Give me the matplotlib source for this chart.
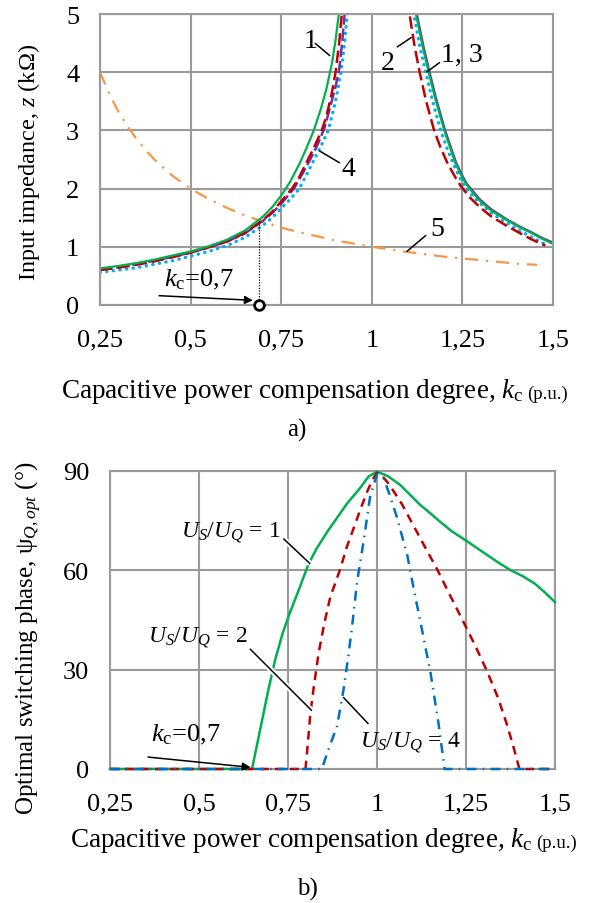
import numpy as np
import matplotlib
matplotlib.use("Agg")
import matplotlib.pyplot as plt
import matplotlib.patheffects as pe

plt.rcParams['font.family'] = ['Liberation Serif', 'DejaVu Serif']
plt.rcParams['mathtext.fontset'] = 'custom'
plt.rcParams['mathtext.rm'] = 'Liberation Serif'
plt.rcParams['mathtext.it'] = 'Liberation Serif:italic'

# --- a) input impedance z (kOhm) vs kc ---
# curve 1 (green)
kc1_l = [0.25, 0.3, 0.35, 0.4, 0.45, 0.5, 0.55, 0.6, 0.65, 0.7, 0.725, 0.75, 0.775, 0.8,
         0.82, 0.84, 0.86, 0.875, 0.89, 0.9, 0.91, 0.92]
z1_l = [0.63, 0.67, 0.72, 0.78, 0.85, 0.92, 1.01, 1.12, 1.28, 1.52, 1.68, 1.88, 2.12, 2.42,
        2.7, 3.0, 3.38, 3.72, 4.15, 4.55, 5.05, 5.6]
kc1_r = [1.11, 1.122, 1.14, 1.157, 1.175, 1.2, 1.23, 1.245, 1.26, 1.28, 1.3, 1.33, 1.375,
         1.41, 1.44, 1.47, 1.5]
z1_r = [5.6, 5.0, 4.45, 4.0, 3.55, 3.0, 2.45, 2.25, 2.08, 1.92, 1.78, 1.62, 1.45,
        1.33, 1.24, 1.14, 1.05]
# curve 2 (red)
kc2_l = [0.25, 0.3, 0.35, 0.4, 0.45, 0.5, 0.55, 0.6, 0.65, 0.7, 0.725, 0.75, 0.78, 0.8,
         0.82, 0.84, 0.862, 0.875, 0.89, 0.9, 0.91, 0.917, 0.925]
z2_l = [0.6, 0.64, 0.69, 0.75, 0.82, 0.9, 0.99, 1.09, 1.24, 1.46, 1.6, 1.78, 2.0, 2.2,
        2.45, 2.7, 3.0, 3.25, 3.65, 4.0, 4.5, 5.0, 5.6]
kc2_r = [1.095, 1.104, 1.118, 1.132, 1.15, 1.172, 1.19, 1.21, 1.23, 1.245, 1.27, 1.3, 1.33,
         1.375, 1.41, 1.44, 1.479]
z2_r = [5.6, 5.0, 4.45, 4.0, 3.5, 3.0, 2.7, 2.42, 2.2, 2.05, 1.85, 1.67, 1.52,
        1.35, 1.23, 1.13, 1.02]
# curve 3 (purple), right branch coincides with curve 1
kc3_l = [0.25, 0.3, 0.35, 0.4, 0.45, 0.5, 0.55, 0.6, 0.65, 0.7, 0.725, 0.75, 0.785, 0.81,
         0.83, 0.85, 0.87, 0.885, 0.9, 0.91, 0.918, 0.925, 0.932]
z3_l = [0.61, 0.65, 0.7, 0.76, 0.83, 0.9, 0.99, 1.09, 1.23, 1.45, 1.58, 1.74, 2.0, 2.27,
        2.5, 2.75, 3.05, 3.4, 3.75, 4.05, 4.5, 5.0, 5.6]
kc3_r = [1.112, 1.124, 1.142, 1.159, 1.177, 1.202, 1.232, 1.247, 1.262, 1.282, 1.3, 1.33,
         1.375, 1.41, 1.44, 1.47, 1.5]
z3_r = [5.6, 5.0, 4.45, 4.0, 3.55, 3.0, 2.45, 2.25, 2.08, 1.93, 1.8, 1.64, 1.46,
        1.34, 1.25, 1.15, 1.07]
# curve 4 (light blue, dotted)
kc4_l = [0.25, 0.3, 0.35, 0.4, 0.45, 0.5, 0.55, 0.6, 0.65, 0.7, 0.725, 0.75, 0.775, 0.8,
         0.825, 0.845, 0.865, 0.88, 0.9, 0.915, 0.925, 0.932, 0.94]
z4_l = [0.56, 0.6, 0.64, 0.7, 0.76, 0.84, 0.92, 1.02, 1.16, 1.37, 1.5, 1.66, 1.82, 2.0,
        2.3, 2.55, 2.8, 3.0, 3.5, 4.0, 4.5, 5.0, 5.6]
kc4_r = [1.105, 1.116, 1.132, 1.149, 1.168, 1.19, 1.21, 1.23, 1.254, 1.28, 1.3, 1.33,
         1.375, 1.41, 1.44, 1.479]
z4_r = [5.6, 5.0, 4.45, 4.0, 3.5, 3.0, 2.65, 2.35, 2.05, 1.86, 1.74, 1.58,
        1.4, 1.27, 1.17, 1.04]
# curve 5 (orange, dash-dot)
kc5 = [0.25, 0.275, 0.3, 0.325, 0.35, 0.375, 0.4, 0.45, 0.5, 0.55, 0.6, 0.65, 0.7, 0.75,
       0.8, 0.9, 1.0, 1.1, 1.2, 1.3, 1.4, 1.456]
z5 = [4.0, 3.64, 3.33, 3.08, 2.86, 2.67, 2.5, 2.22, 2.0, 1.82, 1.67, 1.54, 1.43, 1.33,
      1.25, 1.11, 1.0, 0.91, 0.83, 0.77, 0.71, 0.69]

kc_mark = 0.69
z_mark = 1.45

# --- b) optimal switching phase (deg) vs kc ---
kc_u1 = [0.25, 0.649, 0.672, 0.695, 0.714, 0.735, 0.756, 0.78, 0.808, 0.83, 0.86, 0.89,
         0.916, 0.95, 0.976, 1.0, 1.03, 1.066, 1.095, 1.122, 1.15, 1.177, 1.21, 1.25,
         1.28, 1.31, 1.34, 1.376, 1.41, 1.443, 1.47, 1.5]
psi_u1 = [0, 0, 12, 24, 33, 41, 47.4, 54, 62, 66.5, 71.6, 76.2,
          80.2, 84.5, 88.3, 89.8, 88.5, 85.7, 82.6, 79.7, 77.2, 74.7, 71.8, 69,
          66.8, 64.6, 62.4, 60, 58.2, 56, 53.5, 50.4]
kc_u2 = [0.25, 0.799, 0.806, 0.813, 0.824, 0.836, 0.852, 0.869, 0.897, 0.915, 0.934,
         0.952, 0.972, 0.988, 1.0, 1.015, 1.036, 1.07, 1.102, 1.135, 1.168, 1.205, 1.243,
         1.277, 1.31, 1.34, 1.366, 1.385, 1.4, 1.5]
psi_u2 = [0, 0, 8, 17, 26, 35, 44, 52, 60.5, 67, 72.6,
          78, 83.7, 87.5, 89.5, 88.5, 85.7, 80, 73.6, 67, 60.5, 52.5, 44.4,
          37, 29.3, 21.5, 13.1, 6, 0, 0]
kc_u4 = [0.25, 0.845, 0.864, 0.888, 0.906, 0.918, 0.93, 0.944, 0.962, 0.981, 1.0,
         1.018, 1.035, 1.056, 1.085, 1.103, 1.122, 1.15, 1.173, 1.19, 1.5]
psi_u4 = [0, 0, 6, 13, 24, 33, 43, 56.5, 68.5, 82.5, 89,
          88, 83, 76, 64.6, 54.5, 44.4, 29.3, 13.6, 0, 0]

xticks = [0.25, 0.5, 0.75, 1.0, 1.25, 1.5]
xticklabels = ['0,25', '0,5', '0,75', '1', '1,25', '1,5']

GRID = '#9a9a9a'
FS = 19

fig = plt.figure(figsize=(5.91, 9.04), dpi=100)
W, H = 591, 904


def prep(ax, ylim, yticks):
    ax.set_xlim(0.25, 1.5)
    ax.set_ylim(*ylim)
    ax.set_xticks(xticks)
    ax.set_xticklabels(xticklabels)
    ax.set_yticks(yticks)
    ax.grid(True, color=GRID, lw=1.5)
    ax.set_axisbelow(True)
    for s in ax.spines.values():
        s.set_color(GRID)
        s.set_linewidth(1.5)
    ax.tick_params(length=0, labelsize=FS)
    ax.tick_params(axis='x', pad=17)
    ax.tick_params(axis='y', pad=15)


def xlabel(x, y):
    t = fig.text(x / W, 1 - y / H, r'Capacitive power compensation degree, $k_\mathrm{c}$',
                 fontsize=19.5, ha='center', va='center')
    ann = plt.annotate('(p.u.)', xy=(1, 0.5), xycoords=t, xytext=(3, -2),
                       textcoords='offset points', fontsize=13.5, ha='left', va='center',
                       annotation_clip=False)
    return ann


# ---------------- a) ----------------
ax1 = fig.add_axes([100 / W, 1 - 306 / H, 453 / W, 291 / H])
prep(ax1, (0, 5), [0, 1, 2, 3, 4, 5])

ax1.plot(kc5, z5, color='#f79646', lw=1.6, dashes=(6, 3.5, 1, 3.5))
ax1.plot(kc4_l, z4_l, color='#00b0f0', lw=2.4, dashes=(0.1, 1.9), dash_capstyle='round')
ax1.plot(kc4_r, z4_r, color='#00b0f0', lw=2.4, dashes=(0.1, 1.9), dash_capstyle='round')
ax1.plot(kc3_l, z3_l, color='#7030a0', lw=1.8, dashes=(5, 1.5))
ax1.plot(kc3_r, z3_r, color='#7030a0', lw=1.8)
ax1.plot(kc2_l, z2_l, color='#c00000', lw=1.8, dashes=(5, 2))
ax1.plot(kc2_r, z2_r, color='#c00000', lw=1.8, dashes=(5, 2))
ax1.plot(kc1_l, z1_l, color='#00b050', lw=1.6)
ax1.plot(kc1_r, z1_r, color='#00b050', lw=1.6)

ax1.plot([kc_mark, kc_mark], [0, z_mark], color='black', lw=0.9, ls=(0, (1, 1.2)))
ax1.plot([kc_mark], [0], 'o', ms=7, mfc='white', mec='black', mew=2, clip_on=False, zorder=10)

lead = dict(color='black', lw=1.1, solid_capstyle='butt')
ax1.text(0.83, 4.54, '1', fontsize=20, ha='center', va='center')
ax1.plot([0.843, 0.885], [4.5, 4.28], **lead)
ax1.text(0.934, 2.35, '4', fontsize=20, ha='center', va='center')
ax1.plot([0.912, 0.855], [2.44, 2.65], **lead)
ax1.text(1.045, 4.175, '2', fontsize=20, ha='center', va='center')
ax1.plot([1.069, 1.11], [4.43, 4.6], **lead)
ax1.text(1.249, 4.31, '1, 3', fontsize=20, ha='center', va='center')
ax1.plot([1.188, 1.151], [4.17, 4.0], **lead)
ax1.text(1.18, 1.31, '5', fontsize=20, ha='center', va='center')
ax1.plot([1.15, 1.096], [1.2, 0.916], **lead)

ax1.text(0.523, 0.44, r'$k_\mathrm{c}$=0,7', fontsize=19, ha='center', va='center')
ax1.annotate('', xy=(0.672, 0.08), xytext=(0.413, 0.16),
             arrowprops=dict(arrowstyle='-|>', color='black', lw=1.1,
                             mutation_scale=12, shrinkA=0, shrinkB=0))

fig.text(29 / W, 1 - 162 / H, r'Input impedance, $z$ (k$\Omega$)', rotation=90,
         fontsize=17.5, ha='center', va='center')
xlabel(292, 392)
fig.text(297 / W, 1 - 430 / H, 'a)', fontsize=18, ha='center', va='center')

# ---------------- b) ----------------
ax2 = fig.add_axes([110 / W, 1 - 770 / H, 445 / W, 298 / H])
prep(ax2, (0, 90), [0, 30, 60, 90])

ax2.plot(kc_u1, psi_u1, color='#00b050', lw=1.8, clip_on=False, zorder=3)
ax2.plot(kc_u2, psi_u2, color='#c00000', lw=1.8, dashes=(3.5, 2.5), clip_on=False, zorder=3)
ax2.plot(kc_u4, psi_u4, color='#0070c0', lw=1.8, dashes=(4, 2.5, 0.6, 2.5), clip_on=False, zorder=3)

halo = [pe.withStroke(linewidth=4, foreground='white')]
ax2.text(0.59, 71.7, r'$U_S/U_Q$ = 1', fontsize=17, ha='center', va='center')
ax2.plot([0.737, 0.812], [69.6, 62], path_effects=halo, zorder=4, **lead)
ax2.text(0.497, 40, r'$U_S/U_Q$ = 2', fontsize=17, ha='center', va='center')
ax2.plot([0.643, 0.817], [36.3, 17.6], path_effects=halo, zorder=4, **lead)
ax2.text(1.093, 8.2, r'$U_S/U_Q$ = 4', fontsize=17, ha='center', va='center')
ax2.plot([0.905, 0.976], [21.7, 13.6], path_effects=halo, zorder=4, **lead)

ax2.text(0.463, 10.6, r'$k_\mathrm{c}$=0,7', fontsize=19, ha='center', va='center')
ax2.annotate('', xy=(0.645, 0.5), xytext=(0.357, 3.6),
             arrowprops=dict(arrowstyle='-|>', color='black', lw=1.1,
                             mutation_scale=12, shrinkA=0, shrinkB=0), zorder=5)

fig.text(29 / W, 1 - 638 / H, r'Optimal switching phase, ψ$_{Q,opt}$ (°)', rotation=90,
         fontsize=18, ha='center', va='center')
xlabel(301, 841)
fig.text(307 / W, 1 - 889 / H, 'b)', fontsize=18, ha='center', va='center')

fig.savefig('out.png', dpi=100)
